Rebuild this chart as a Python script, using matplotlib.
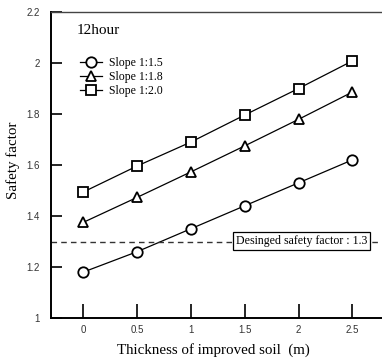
import matplotlib
matplotlib.use("Agg")
import matplotlib.pyplot as plt

# data
thickness = [0, 0.5, 1, 1.5, 2, 2.5]
slope_15 = [1.18, 1.26, 1.35, 1.44, 1.53, 1.62]
slope_18 = [1.375, 1.473, 1.573, 1.675, 1.779, 1.886]
slope_20 = [1.494, 1.596, 1.69, 1.796, 1.90, 2.008]
labels = ["Slope 1:1.5", "Slope 1:1.8", "Slope 1:2.0"]
design_sf = 1.3

serif = "Liberation Serif"
sans = "Liberation Sans"

fig = plt.figure(figsize=(3.82, 3.60), dpi=100)
ax = fig.add_axes([51 / 382, 42 / 360, 339 / 382, 306 / 360])

markers = ["o", "^", "s"]
for vals, mk, lab in zip([slope_15, slope_18, slope_20], markers, labels):
    ax.plot(thickness, vals, color="black", lw=0.9, marker=mk, markersize=7.5,
            mfc="white", mec="black", mew=1.3, label=lab)

# design safety factor line
ax.axhline(design_sf, color="#333333", lw=1.0, ls=(0, (4, 3)))
ax.text(2.03, design_sf + 0.003, "Desinged safety factor : 1.3", fontsize=8.6, family=serif,
        ha="center", va="center",
        bbox=dict(boxstyle="square,pad=0.25", fc="white", ec="black", lw=0.9))

ax.set_xlim(-0.3, 2.85)
ax.set_ylim(1, 2.2)
ax.set_xticks(thickness)
ax.set_xticklabels(["0", "0.5", "1", "1.5", "2", "2.5"])
ax.set_yticks([1, 1.2, 1.4, 1.6, 1.8, 2, 2.2])
ax.set_yticklabels(["1", "1.2", "1.4", "1.6", "1.8", "2", "2.2"])
ax.tick_params(axis="x", direction="in", length=10, width=1.2, pad=5, labelsize=7,
               labelcolor="#333333")
ax.tick_params(axis="y", direction="in", length=8, width=1.2, pad=8, labelsize=7,
               labelcolor="#333333")
for lab in ax.get_xticklabels() + ax.get_yticklabels():
    lab.set_family(sans)

ax.spines["right"].set_visible(False)
ax.spines["left"].set_linewidth(1.4)
ax.spines["bottom"].set_linewidth(1.4)
ax.spines["top"].set_linewidth(1.0)
ax.spines["top"].set_color("#444444")

ax.set_xlabel("Thickness of improved soil  (m)", fontsize=10.8, family=serif)
ax.set_ylabel("Safety factor", fontsize=10.8, family=serif)
ax.xaxis.set_label_coords((213 - 51) / 339, -(350 - 318) / 306)
ax.yaxis.set_label_coords(-(51 - 13) / 339, (318 - 160) / 306)
ax.xaxis.label.set_va("center")
ax.yaxis.label.set_va("center")

ax.text(77, 360 - 30, "12hour", transform=None, fontsize=11, family=serif, va="center")

leg = ax.legend(loc="upper left", bbox_to_anchor=(75 / 382, 1 - 52 / 360),
                bbox_transform=fig.transFigure, frameon=False,
                prop={"family": serif, "size": 8.5}, handlelength=1.9,
                handletextpad=0.6, labelspacing=0.2, borderaxespad=0)

fig.savefig("out.png", dpi=100)
